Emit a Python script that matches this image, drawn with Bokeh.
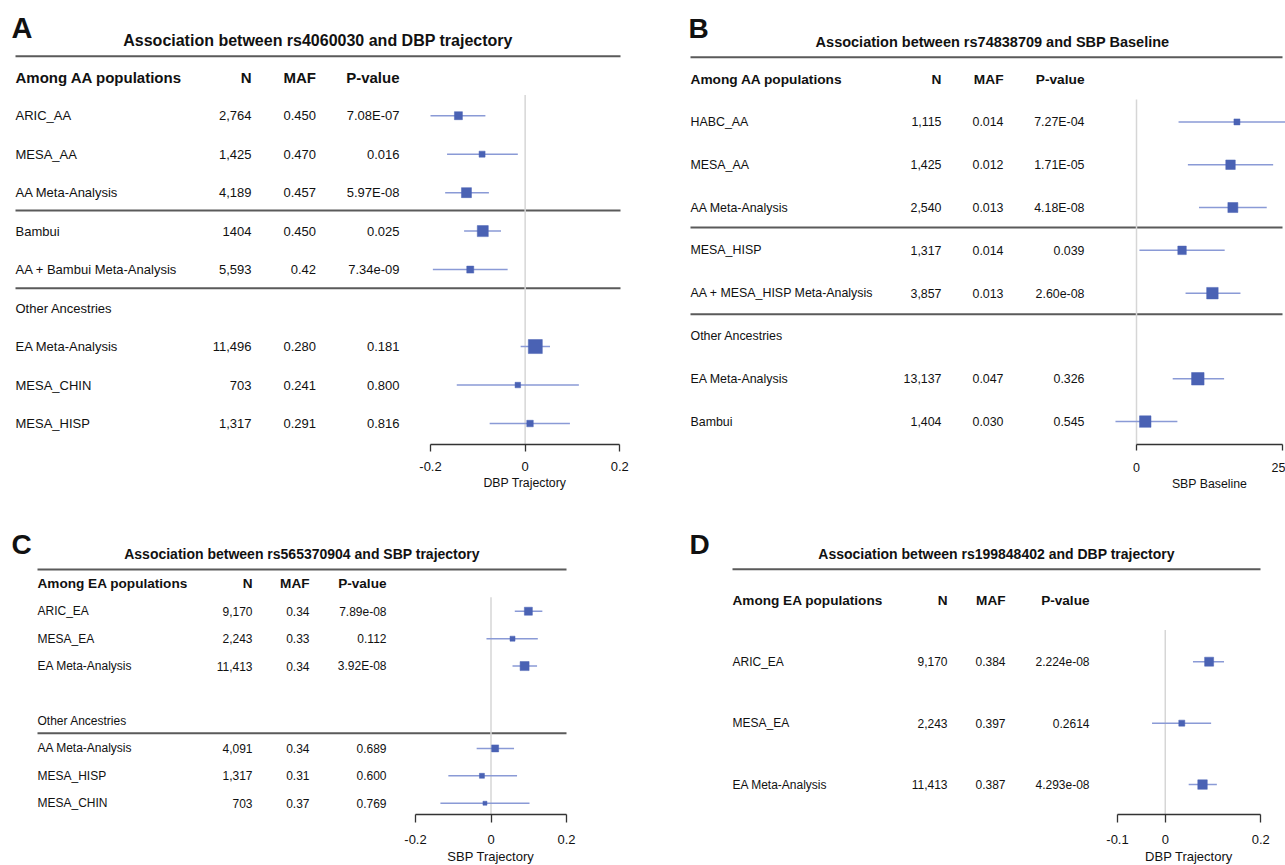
from bokeh.plotting import figure
from bokeh.models import Range1d, FixedTicker, CustomJSTickFormatter, ColumnDataSource, Title
from bokeh.layouts import row, column
from bokeh.core.properties import value
from bokeh.embed import file_html
from bokeh.resources import INLINE

FONT = "Liberation Sans"
BOX = "#4a62b4"
CI = "#8a9ad6"
ZERO = "#d6d6d6"
RULE = "#5a5a5a"
TXT = "#111111"

# ---------------- Panel A data ----------------
A_title = "Association between rs4060030 and DBP trajectory"
A_header = ["Among AA populations", "N", "MAF", "P-value"]
A_labels = ["ARIC_AA", "MESA_AA", "AA Meta-Analysis", "Bambui", "AA + Bambui Meta-Analysis",
            "Other Ancestries", "EA Meta-Analysis", "MESA_CHIN", "MESA_HISP"]
A_N = ["2,764", "1,425", "4,189", "1404", "5,593", "", "11,496", "703", "1,317"]
A_MAF = ["0.450", "0.470", "0.457", "0.450", "0.42", "", "0.280", "0.241", "0.291"]
A_P = ["7.08E-07", "0.016", "5.97E-08", "0.025", "7.34e-09", "", "0.181", "0.800", "0.816"]
A_est = [-0.141, -0.091, -0.124, -0.0895, -0.116, None, 0.0215, -0.0155, 0.0103]
A_lo = [-0.200, -0.165, -0.169, -0.129, -0.195, None, -0.0095, -0.1445, -0.075]
A_hi = [-0.084, -0.0155, -0.0766, -0.051, -0.037, None, 0.0525, 0.1135, 0.0946]
A_box = [8, 6, 10, 11, 7, None, 14, 5.5, 6.5]
A_ticks = [-0.2, 0, 0.2]
A_xlabel = "DBP Trajectory"

# ---------------- Panel B data ----------------
B_title = "Association between rs74838709 and SBP Baseline"
B_header = ["Among AA populations", "N", "MAF", "P-value"]
B_labels = ["HABC_AA", "MESA_AA", "AA Meta-Analysis", "MESA_HISP", "AA + MESA_HISP Meta-Analysis",
            "Other Ancestries", "EA Meta-Analysis", "Bambui"]
B_N = ["1,115", "1,425", "2,540", "1,317", "3,857", "", "13,137", "1,404"]
B_MAF = ["0.014", "0.012", "0.013", "0.014", "0.013", "", "0.047", "0.030"]
B_P = ["7.27E-04", "1.71E-05", "4.18E-08", "0.039", "2.60e-08", "", "0.326", "0.545"]
B_est = [17.2, 16.1, 16.5, 7.8, 13.0, None, 10.5, 1.5]
B_lo = [7.2, 8.8, 10.7, 0.5, 8.4, None, 6.2, -3.6]
B_hi = [27.2, 23.4, 22.3, 15.1, 17.8, None, 15.0, 7.0]
B_box = [6, 9.5, 10, 8.5, 11.5, None, 12.5, 11.5]
B_ticks = [0, 25]
B_xlabel = "SBP Baseline"

# ---------------- Panel C data ----------------
C_title = "Association between rs565370904 and SBP trajectory"
C_header = ["Among EA populations", "N", "MAF", "P-value"]
C_labels = ["ARIC_EA", "MESA_EA", "EA Meta-Analysis", "", "Other Ancestries",
            "AA Meta-Analysis", "MESA_HISP", "MESA_CHIN"]
C_N = ["9,170", "2,243", "11,413", "", "", "4,091", "1,317", "703"]
C_MAF = ["0.34", "0.33", "0.34", "", "", "0.34", "0.31", "0.37"]
C_P = ["7.89e-08", "0.112", "3.92E-08", "", "", "0.689", "0.600", "0.769"]
C_est = [0.099, 0.057, 0.089, None, None, 0.011, -0.024, -0.016]
C_lo = [0.063, -0.012, 0.057, None, None, -0.038, -0.113, -0.134]
C_hi = [0.136, 0.124, 0.122, None, None, 0.061, 0.069, 0.102]
C_box = [8, 5, 9, None, None, 7, 5, 4]
C_ticks = [-0.2, 0, 0.2]
C_xlabel = "SBP Trajectory"

# ---------------- Panel D data ----------------
D_title = "Association between rs199848402 and DBP trajectory"
D_header = ["Among EA populations", "N", "MAF", "P-value"]
D_labels = ["ARIC_EA", "MESA_EA", "EA Meta-Analysis"]
D_N = ["9,170", "2,243", "11,413"]
D_MAF = ["0.384", "0.397", "0.387"]
D_P = ["2.224e-08", "0.2614", "4.293e-08"]
D_est = [0.0918, 0.0346, 0.0780]
D_lo = [0.058, -0.0277, 0.049]
D_hi = [0.123, 0.096, 0.108]
D_box = [9, 6, 9.5]
D_ticks = [-0.1, 0, 0.2]
D_xlabel = "DBP Trajectory"

# Arial / Liberation Sans advance widths (em) used to centre the axis titles
_W = {" ": .278, "B": .667, "D": .722, "P": .667, "S": .667, "T": .611, "a": .556, "c": .5,
      "e": .556, "i": .222, "j": .222, "l": .222, "n": .556, "o": .556, "r": .333,
      "s": .5, "t": .278, "y": .5}


def text_width(s, px):
    return sum(_W.get(ch, .556) for ch in s) * px


def panel(L, title, header, labels, N, MAF, P, est, lo, hi, box, ticks, xlabel):
    ox, oy = L["origin"]
    w, h = L["size"]
    axis_y = L["axis_y"]
    fh = axis_y - oy
    (p1, p2) = L["tick_px"]
    v1, v2 = ticks[0], ticks[-1]
    upp = (v2 - v1) / (p2 - p1)
    xs = v1 - (p1 - ox) * upp
    xe = xs + w * upp
    hy, sp = L["header_y"], L["spacing"]
    ys = (axis_y - hy) / sp
    ye = (oy - hy) / sp

    p = figure(width=w, height=h, x_range=Range1d(xs, xe), y_range=Range1d(ys, ye),
               output_backend="svg", toolbar_location=None, y_axis_location=None,
               x_axis_location="below",
               min_border_left=0, min_border_right=0, min_border_top=0,
               min_border_bottom=h - fh)
    p.extra_x_ranges = {"px": Range1d(ox, ox + w)}
    p.extra_y_ranges = {"py": Range1d(oy + fh, oy)}
    p.outline_line_color = None
    p.xgrid.visible = False
    p.ygrid.visible = False
    p.background_fill_color = "white"
    p.border_fill_color = "white"

    fs_row, fs_hdr, fs_title, fs_letter = L["fonts"]
    rx0, rx1 = L["rule_x"]

    # panel letter and title
    lx, lyy = L["letter_pos"]
    p.text(x=[lx], y=[lyy], text=[L["letter"]], x_range_name="px", y_range_name="py",
           text_font=value(FONT), text_font_size=value(fs_letter), text_font_style="bold",
           text_align="left", text_baseline="middle", text_color=TXT)
    p.text(x=[(rx0 + rx1) / 2 + L.get("title_dx", 0)], y=[L["title_y"]], text=[title],
           x_range_name="px", y_range_name="py",
           text_font=value(FONT), text_font_size=value(fs_title), text_font_style="bold",
           text_align="center", text_baseline="middle", text_color=TXT)
    # rules
    ry = [L["rule_top"]] + L["rules"]
    p.segment(x0=[rx0] * len(ry), y0=ry, x1=[rx1] * len(ry), y1=ry,
              x_range_name="px", y_range_name="py", line_color=RULE, line_width=2)

    # header row
    cx = L["cols"]
    p.text(x=[cx[0]], y=[0], text=[header[0]], x_range_name="px",
           text_font=value(FONT), text_font_size=value(fs_hdr), text_font_style="bold",
           text_align="left", text_baseline="middle", text_color=TXT)
    p.text(x=cx[1:], y=[0, 0, 0], text=header[1:], x_range_name="px",
           text_font=value(FONT), text_font_size=value(fs_hdr), text_font_style="bold",
           text_align="right", text_baseline="middle", text_color=TXT)

    rows = list(range(1, len(labels) + 1))
    p.text(x=[cx[0]] * len(rows), y=rows, text=labels, x_range_name="px",
           text_font=value(FONT), text_font_size=value(fs_row),
           text_align="left", text_baseline="middle", text_color=TXT)
    for col, vals in zip(cx[1:], [N, MAF, P]):
        p.text(x=[col] * len(rows), y=rows, text=vals, x_range_name="px",
               text_font=value(FONT), text_font_size=value(fs_row),
               text_align="right", text_baseline="middle", text_color=TXT)

    # zero line
    zt = (L["zero_top"] - hy) / sp
    p.segment(x0=[0], y0=[zt], x1=[0], y1=[ys], line_color=ZERO, line_width=1.5)

    idx = [i for i, e in enumerate(est) if e is not None]
    src = ColumnDataSource(dict(y=[i + 1 for i in idx], est=[est[i] for i in idx],
                                lo=[lo[i] for i in idx], hi=[hi[i] for i in idx],
                                box=[box[i] for i in idx]))
    p.segment(x0="lo", y0="y", x1="hi", y1="y", source=src, line_color=CI, line_width=1.5)
    p.scatter(x="est", y="y", size="box", marker="square", source=src,
              fill_color=BOX, line_color=BOX, line_width=0.5)

    ax = p.xaxis[0]
    ax.ticker = FixedTicker(ticks=ticks)
    ax.bounds = (ticks[0], ticks[-1])
    ax.formatter = CustomJSTickFormatter(code="return String(Math.round(tick*1000)/1000);")
    ax.major_tick_out = L["tick_out"]
    ax.major_tick_in = 0
    ax.minor_tick_out = 0
    ax.minor_tick_in = 0
    ax.axis_line_color = "#333333"
    ax.axis_line_width = 1.3
    ax.major_tick_line_color = "#333333"
    ax.major_tick_line_width = 1.3
    ax.major_label_text_font = FONT
    ax.major_label_text_font_size = L["tick_fs"]
    ax.major_label_text_color = TXT
    ax.major_label_standoff = L["label_standoff"]

    # axis title, centred under the axis span (offset from the frame's left edge)
    fs = L["xlabel_fs"]
    centre_px = (p1 + p2) / 2 - ox
    off = centre_px - text_width(xlabel, float(fs.replace("px", ""))) / 2
    p.add_layout(Title(text=xlabel, align="left", offset=off, text_font=FONT,
                       text_font_size=fs, text_font_style="normal", text_color=TXT,
                       standoff=L["xlabel_standoff"]), "below")
    return p


LA = dict(origin=(0, 0), size=(640, 510), axis_y=444, tick_px=(430, 619.3),
          header_y=76.7, spacing=38.48, letter="A", letter_pos=(11, 27),
          title_y=40, rule_top=55.7, rules=[210, 287.7], rule_x=(15, 620),
          cols=[15, 251, 315.5, 399], zero_top=94.5,
          fonts=("13px", "15px", "16px", "29px"), tick_out=7, tick_fs="13px",
          label_standoff=10, xlabel_fs="12.3px", xlabel_standoff=0)
LB = dict(origin=(640, 0), size=(645, 510), axis_y=448, tick_px=(1136, 1282),
          header_y=79.3, spacing=43.2, letter="B", letter_pos=(688, 28),
          title_y=41.7, rule_top=57.3, rules=[229, 316.7], rule_x=(690, 1282),
          cols=[690, 941, 1003, 1084], zero_top=100, title_dx=6,
          fonts=("12.4px", "13.7px", "14.5px", "28px"), tick_out=6, tick_fs="12.5px",
          label_standoff=12, xlabel_fs="12.3px", xlabel_standoff=0)
LC = dict(origin=(0, 510), size=(640, 355), axis_y=814, tick_px=(415, 566),
          header_y=583.3, spacing=27.43, letter="C", letter_pos=(11, 544),
          title_y=553.3, rule_top=569, rules=[732.7], rule_x=(37, 566),
          cols=[37, 252, 309, 386], zero_top=596.7,
          fonts=("12px", "13.6px", "14px", "28px"), tick_out=8, tick_fs="13px",
          label_standoff=12, xlabel_fs="13px", xlabel_standoff=0)
LD = dict(origin=(640, 510), size=(645, 355), axis_y=815, tick_px=(1117, 1260.3),
          header_y=600, spacing=61.67, letter="D", letter_pos=(689, 544),
          title_y=553.3, rule_top=569, rules=[], rule_x=(732, 1260),
          cols=[732, 947, 1005, 1089], zero_top=630,
          fonts=("12px", "13.6px", "14px", "28px"), tick_out=8, tick_fs="13px",
          label_standoff=12, xlabel_fs="13px", xlabel_standoff=0)

pA = panel(LA, A_title, A_header, A_labels, A_N, A_MAF, A_P, A_est, A_lo, A_hi, A_box, A_ticks, A_xlabel)
pB = panel(LB, B_title, B_header, B_labels, B_N, B_MAF, B_P, B_est, B_lo, B_hi, B_box, B_ticks, B_xlabel)
pC = panel(LC, C_title, C_header, C_labels, C_N, C_MAF, C_P, C_est, C_lo, C_hi, C_box, C_ticks, C_xlabel)
pD = panel(LD, D_title, D_header, D_labels, D_N, D_MAF, D_P, D_est, D_lo, D_hi, D_box, D_ticks, D_xlabel)

layout = column(row(pA, pB, spacing=0), row(pC, pD, spacing=0), spacing=0)
open("out.html", "w").write(file_html(layout, INLINE))
